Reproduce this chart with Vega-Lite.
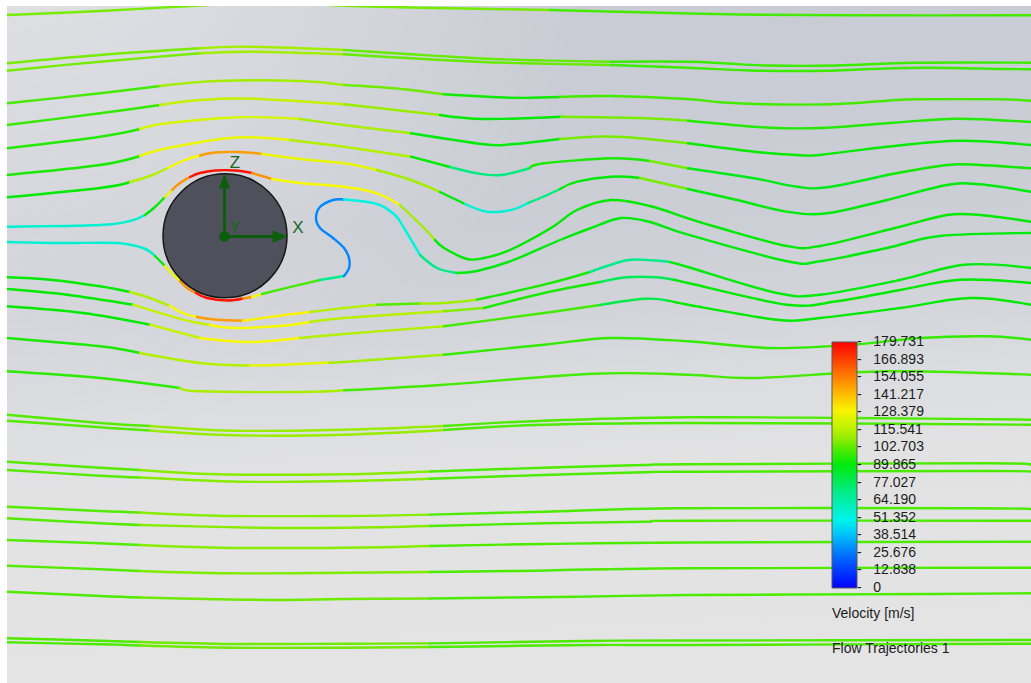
{
  "$schema": "https://vega.github.io/schema/vega-lite/v6.json",
  "width": 1024,
  "height": 677,
  "padding": {"left": 7, "top": 6, "right": 0, "bottom": 0},
  "autosize": {"type": "none"},
  "background": "#ffffff",
  "config": {"view": {"stroke": null}, "font": "Liberation Sans"},
  "datasets": {
    "flow": [
      {"s":"T1a","v":106,"x":7,"y":15},{"s":"T1a","v":106,"x":100,"y":11},{"s":"T1a","v":106,"x":199,"y":5.5},{"s":"T1a","v":106,"x":270,"y":2.5},{"s":"T1a","v":106,"x":352,"y":6},{"s":"T1a","v":106,"x":450,"y":8.3},{"s":"T1a","v":106,"x":550,"y":10},
      {"s":"T1b","v":100,"x":550,"y":10},{"s":"T1b","v":100,"x":650,"y":12.5},{"s":"T1b","v":100,"x":740,"y":14.5},{"s":"T1b","v":100,"x":850,"y":15.3},{"s":"T1b","v":100,"x":1031,"y":15.3},

      {"s":"A1","v":106,"x":7,"y":63.3},{"s":"A1","v":106,"x":100,"y":55},{"s":"A1","v":106,"x":200,"y":48.3},
      {"s":"A2","v":112,"x":200,"y":48.3},{"s":"A2","v":112,"x":247,"y":46.7},{"s":"A2","v":112,"x":344,"y":50},
      {"s":"A3","v":104,"x":344,"y":50},{"s":"A3","v":104,"x":411,"y":54.3},{"s":"A3","v":104,"x":477,"y":58.3},{"s":"A3","v":104,"x":524,"y":60},{"s":"A3","v":104,"x":611,"y":61.7},
      {"s":"A4","v":99,"x":611,"y":61.7},{"s":"A4","v":99,"x":687,"y":61.7},{"s":"A4","v":99,"x":724,"y":63.3},{"s":"A4","v":99,"x":767,"y":65.5},{"s":"A4","v":99,"x":837,"y":65.5},{"s":"A4","v":99,"x":914,"y":62.7},{"s":"A4","v":99,"x":1031,"y":62.7},

      {"s":"B1","v":106,"x":7,"y":70.7},{"s":"B1","v":106,"x":100,"y":61.7},{"s":"B1","v":106,"x":200,"y":53.3},
      {"s":"B2","v":112,"x":200,"y":53.3},{"s":"B2","v":112,"x":250,"y":51.7},{"s":"B2","v":112,"x":344,"y":54.3},
      {"s":"B3","v":104,"x":344,"y":54.3},{"s":"B3","v":104,"x":411,"y":58.3},{"s":"B3","v":104,"x":477,"y":61.7},{"s":"B3","v":104,"x":524,"y":63.3},{"s":"B3","v":104,"x":611,"y":65},
      {"s":"B4","v":99,"x":611,"y":65},{"s":"B4","v":99,"x":687,"y":67.7},{"s":"B4","v":99,"x":750,"y":70.5},{"s":"B4","v":99,"x":830,"y":70.7},{"s":"B4","v":99,"x":870,"y":69},{"s":"B4","v":99,"x":927,"y":67.7},{"s":"B4","v":99,"x":1003,"y":69},{"s":"B4","v":99,"x":1031,"y":69.3},

      {"s":"C1","v":100,"x":7,"y":103.3},{"s":"C1","v":100,"x":100,"y":93.3},{"s":"C1","v":100,"x":160,"y":86},
      {"s":"C2","v":112,"x":160,"y":86},{"s":"C2","v":112,"x":217,"y":81},{"s":"C2","v":112,"x":300,"y":81},{"s":"C2","v":112,"x":344,"y":85},
      {"s":"C3","v":105,"x":344,"y":85},{"s":"C3","v":105,"x":394,"y":88.3},{"s":"C3","v":105,"x":444,"y":94.3},
      {"s":"C4","v":94,"x":444,"y":94.3},{"s":"C4","v":94,"x":511,"y":97.7},{"s":"C4","v":94,"x":560,"y":97},
      {"s":"C5","v":100,"x":560,"y":97},{"s":"C5","v":100,"x":611,"y":96},{"s":"C5","v":100,"x":687,"y":99},{"s":"C5","v":100,"x":720,"y":102.3},{"s":"C5","v":100,"x":767,"y":104.3},{"s":"C5","v":100,"x":830,"y":104.3},{"s":"C5","v":100,"x":887,"y":100.7},{"s":"C5","v":100,"x":917,"y":99.3},{"s":"C5","v":100,"x":997,"y":99.3},{"s":"C5","v":100,"x":1031,"y":100.7},

      {"s":"D1","v":98,"x":7,"y":125},{"s":"D1","v":98,"x":100,"y":113.3},{"s":"D1","v":98,"x":160,"y":105},
      {"s":"D2","v":118,"x":160,"y":105},{"s":"D2","v":118,"x":200,"y":100},{"s":"D2","v":118,"x":253,"y":98.7},{"s":"D2","v":118,"x":344,"y":104.3},
      {"s":"D3","v":110,"x":344,"y":104.3},{"s":"D3","v":110,"x":411,"y":111.7},{"s":"D3","v":110,"x":440,"y":115},
      {"s":"D4","v":92,"x":440,"y":115},{"s":"D4","v":92,"x":484,"y":119},{"s":"D4","v":92,"x":561,"y":116.7},
      {"s":"D5","v":106,"x":561,"y":116.7},{"s":"D5","v":106,"x":640,"y":118},{"s":"D5","v":106,"x":688,"y":120.7},
      {"s":"D6","v":96,"x":688,"y":120.7},{"s":"D6","v":96,"x":770,"y":127.7},{"s":"D6","v":96,"x":827,"y":127.7},{"s":"D6","v":96,"x":894,"y":122.7},{"s":"D6","v":96,"x":957,"y":118.7},{"s":"D6","v":96,"x":1031,"y":122},

      {"s":"E1","v":96,"x":7,"y":148.3},{"s":"E1","v":96,"x":100,"y":136.7},{"s":"E1","v":96,"x":140,"y":129},
      {"s":"E2","v":122,"x":140,"y":129},{"s":"E2","v":122,"x":167,"y":123.3},{"s":"E2","v":122,"x":240,"y":117.3},{"s":"E2","v":122,"x":300,"y":119},
      {"s":"E3","v":113,"x":300,"y":119},{"s":"E3","v":113,"x":344,"y":125},{"s":"E3","v":113,"x":411,"y":133.3},
      {"s":"E4","v":90,"x":411,"y":133.3},{"s":"E4","v":90,"x":484,"y":144.3},{"s":"E4","v":90,"x":511,"y":144.3},{"s":"E4","v":90,"x":560,"y":139},
      {"s":"E5","v":106,"x":560,"y":139},{"s":"E5","v":106,"x":594,"y":136.7},{"s":"E5","v":106,"x":627,"y":137.3},{"s":"E5","v":106,"x":688,"y":143.3},
      {"s":"E6","v":93,"x":688,"y":143.3},{"s":"E6","v":93,"x":754,"y":151.7},{"s":"E6","v":93,"x":797,"y":155},{"s":"E6","v":93,"x":820,"y":155},{"s":"E6","v":93,"x":887,"y":146.7},{"s":"E6","v":93,"x":960,"y":140.7},{"s":"E6","v":93,"x":1031,"y":145},

      {"s":"F1","v":95,"x":7,"y":175},{"s":"F1","v":95,"x":100,"y":165},{"s":"F1","v":95,"x":140,"y":156},
      {"s":"F2","v":126,"x":140,"y":156},{"s":"F2","v":126,"x":167,"y":148.3},{"s":"F2","v":126,"x":233,"y":137.7},{"s":"F2","v":126,"x":290,"y":140},
      {"s":"F3","v":115,"x":290,"y":140},{"s":"F3","v":115,"x":344,"y":146.7},{"s":"F3","v":115,"x":411,"y":156.7},
      {"s":"F4","v":92,"x":411,"y":156.7},{"s":"F4","v":92,"x":450,"y":167},
      {"s":"F5","v":72,"x":450,"y":167},{"s":"F5","v":72,"x":477,"y":173.3},{"s":"F5","v":72,"x":501,"y":175},{"s":"F5","v":72,"x":530,"y":168},
      {"s":"F6","v":95,"x":530,"y":168},{"s":"F6","v":95,"x":544,"y":163.3},{"s":"F6","v":95,"x":611,"y":158.3},{"s":"F6","v":95,"x":650,"y":161},
      {"s":"F7","v":106,"x":650,"y":161},{"s":"F7","v":106,"x":688,"y":168.3},
      {"s":"F8","v":88,"x":688,"y":168.3},{"s":"F8","v":88,"x":754,"y":178.3},{"s":"F8","v":88,"x":797,"y":186.7},{"s":"F8","v":88,"x":827,"y":187.3},{"s":"F8","v":88,"x":887,"y":175},
      {"s":"F9","v":94,"x":887,"y":175},{"s":"F9","v":94,"x":947,"y":165},{"s":"F9","v":94,"x":980,"y":165},{"s":"F9","v":94,"x":1031,"y":168.3},

      {"s":"V1","v":92,"x":7,"y":197.3},{"s":"V1","v":92,"x":100,"y":188},{"s":"V1","v":92,"x":130,"y":182},
      {"s":"V2","v":115,"x":130,"y":182},{"s":"V2","v":115,"x":150,"y":176},{"s":"V2","v":115,"x":168,"y":168},
      {"s":"V3","v":128,"x":168,"y":168},{"s":"V3","v":128,"x":185,"y":160},{"s":"V3","v":128,"x":200,"y":155.5},
      {"s":"V4","v":148,"x":200,"y":155.5},{"s":"V4","v":148,"x":215,"y":152.5},{"s":"V4","v":148,"x":240,"y":152},{"s":"V4","v":148,"x":262,"y":154},
      {"s":"V5","v":125,"x":262,"y":154},{"s":"V5","v":125,"x":300,"y":159},{"s":"V5","v":125,"x":344,"y":163.3},{"s":"V5","v":125,"x":377,"y":170},
      {"s":"V6","v":112,"x":377,"y":170},{"s":"V6","v":112,"x":411,"y":180},{"s":"V6","v":112,"x":440,"y":192},
      {"s":"V7","v":90,"x":440,"y":192},{"s":"V7","v":90,"x":465,"y":204},
      {"s":"V8","v":55,"x":465,"y":204},{"s":"V8","v":55,"x":487,"y":211.7},{"s":"V8","v":55,"x":511,"y":210},{"s":"V8","v":55,"x":528,"y":203},
      {"s":"V9","v":72,"x":528,"y":203},{"s":"V9","v":72,"x":545,"y":196},{"s":"V9","v":72,"x":560,"y":189},
      {"s":"V10","v":92,"x":560,"y":189},{"s":"V10","v":92,"x":577,"y":181.7},{"s":"V10","v":92,"x":611,"y":176.7},{"s":"V10","v":92,"x":640,"y":178},
      {"s":"V11","v":106,"x":640,"y":178},{"s":"V11","v":106,"x":688,"y":189},
      {"s":"V12","v":90,"x":688,"y":189},{"s":"V12","v":90,"x":737,"y":200},{"s":"V12","v":90,"x":787,"y":211.7},{"s":"V12","v":90,"x":827,"y":213.3},{"s":"V12","v":90,"x":887,"y":200},{"s":"V12","v":90,"x":947,"y":185},{"s":"V12","v":90,"x":980,"y":184.3},{"s":"V12","v":90,"x":1031,"y":191.7},

      {"s":"U1","v":55,"x":7,"y":226.7},{"s":"U1","v":55,"x":100,"y":225},{"s":"U1","v":55,"x":130,"y":221},{"s":"U1","v":55,"x":145,"y":215},
      {"s":"U2","v":90,"x":145,"y":215},{"s":"U2","v":90,"x":155,"y":207},{"s":"U2","v":90,"x":165,"y":197},
      {"s":"U3","v":125,"x":165,"y":197},{"s":"U3","v":125,"x":172,"y":190},
      {"s":"U4","v":150,"x":172,"y":190},{"s":"U4","v":150,"x":180,"y":183},{"s":"U4","v":150,"x":190,"y":177},
      {"s":"U5","v":176,"x":190,"y":177},{"s":"U5","v":176,"x":200,"y":173},{"s":"U5","v":176,"x":215,"y":170.5},{"s":"U5","v":176,"x":235,"y":170.5},{"s":"U5","v":176,"x":252,"y":173},
      {"s":"U6","v":150,"x":252,"y":173},{"s":"U6","v":150,"x":262,"y":176},{"s":"U6","v":150,"x":272,"y":179},
      {"s":"U7","v":128,"x":272,"y":179},{"s":"U7","v":128,"x":300,"y":183},{"s":"U7","v":128,"x":344,"y":186.7},{"s":"U7","v":128,"x":377,"y":193.3},{"s":"U7","v":128,"x":400,"y":205},
      {"s":"U8","v":112,"x":400,"y":205},{"s":"U8","v":112,"x":424,"y":228},{"s":"U8","v":112,"x":435,"y":240},
      {"s":"U9","v":92,"x":435,"y":240},{"s":"U9","v":92,"x":444,"y":248},{"s":"U9","v":92,"x":467,"y":259},{"s":"U9","v":92,"x":484,"y":258},{"s":"U9","v":92,"x":510,"y":250},{"s":"U9","v":92,"x":551,"y":228},{"s":"U9","v":92,"x":577,"y":210},{"s":"U9","v":92,"x":611,"y":200},{"s":"U9","v":92,"x":650,"y":206},{"s":"U9","v":92,"x":688,"y":218.3},{"s":"U9","v":92,"x":720,"y":228},{"s":"U9","v":92,"x":787,"y":246},{"s":"U9","v":92,"x":820,"y":246},{"s":"U9","v":92,"x":895,"y":228},{"s":"U9","v":92,"x":947,"y":215},{"s":"U9","v":92,"x":980,"y":215},{"s":"U9","v":92,"x":1031,"y":221.7},

      {"s":"H1","v":55,"x":7,"y":242},{"s":"H1","v":55,"x":60,"y":243},{"s":"H1","v":55,"x":117,"y":243},{"s":"H1","v":55,"x":143,"y":248},{"s":"H1","v":55,"x":155,"y":256},
      {"s":"H2","v":90,"x":155,"y":256},{"s":"H2","v":90,"x":165,"y":266},
      {"s":"H3","v":125,"x":165,"y":266},{"s":"H3","v":125,"x":173,"y":274.7},{"s":"H3","v":125,"x":180,"y":281},
      {"s":"H4","v":150,"x":180,"y":281},{"s":"H4","v":150,"x":187,"y":288},{"s":"H4","v":150,"x":196,"y":293},
      {"s":"H5","v":176,"x":196,"y":293},{"s":"H5","v":176,"x":207,"y":298},{"s":"H5","v":176,"x":227,"y":300.5},{"s":"H5","v":176,"x":243,"y":298.5},
      {"s":"H6","v":150,"x":243,"y":298.5},{"s":"H6","v":150,"x":252,"y":297},
      {"s":"H7","v":128,"x":252,"y":297},{"s":"H7","v":128,"x":262,"y":294},
      {"s":"H8","v":100,"x":262,"y":294},{"s":"H8","v":100,"x":300,"y":284.7},{"s":"H8","v":100,"x":320,"y":280},
      {"s":"H9","v":68,"x":320,"y":280},{"s":"H9","v":68,"x":344,"y":276},
      {"s":"H10","v":28,"x":344,"y":276},{"s":"H10","v":28,"x":349,"y":268},{"s":"H10","v":28,"x":349,"y":258},{"s":"H10","v":28,"x":344,"y":248},{"s":"H10","v":28,"x":333,"y":238},{"s":"H10","v":28,"x":320,"y":228},{"s":"H10","v":28,"x":316,"y":218},{"s":"H10","v":28,"x":320,"y":207},{"s":"H10","v":28,"x":333,"y":200},{"s":"H10","v":28,"x":344,"y":199.5},
      {"s":"H11","v":52,"x":344,"y":199.5},{"s":"H11","v":52,"x":377,"y":204},{"s":"H11","v":52,"x":395,"y":215},{"s":"H11","v":52,"x":404,"y":228},{"s":"H11","v":52,"x":420,"y":255},
      {"s":"H12","v":70,"x":420,"y":255},{"s":"H12","v":70,"x":437,"y":268},{"s":"H12","v":70,"x":457,"y":273},
      {"s":"H13","v":90,"x":457,"y":273},{"s":"H13","v":90,"x":477,"y":271},{"s":"H13","v":90,"x":511,"y":261},{"s":"H13","v":90,"x":560,"y":240},{"s":"H13","v":90,"x":591,"y":228},{"s":"H13","v":90,"x":621,"y":218},{"s":"H13","v":90,"x":650,"y":222},{"s":"H13","v":90,"x":688,"y":234.7},{"s":"H13","v":90,"x":787,"y":261.3},{"s":"H13","v":90,"x":820,"y":261.3},{"s":"H13","v":90,"x":887,"y":248},{"s":"H13","v":90,"x":940,"y":236},{"s":"H13","v":90,"x":1031,"y":233},

      {"s":"P1","v":92,"x":7,"y":277.3},{"s":"P1","v":92,"x":50,"y":279.7},{"s":"P1","v":92,"x":100,"y":286.3},{"s":"P1","v":92,"x":130,"y":292},
      {"s":"P2","v":115,"x":130,"y":292},{"s":"P2","v":115,"x":150,"y":298},{"s":"P2","v":115,"x":170,"y":306},
      {"s":"P3","v":128,"x":170,"y":306},{"s":"P3","v":128,"x":183,"y":313},{"s":"P3","v":128,"x":197,"y":317},
      {"s":"P4","v":148,"x":197,"y":317},{"s":"P4","v":148,"x":217,"y":319.7},{"s":"P4","v":148,"x":243,"y":320.7},
      {"s":"P5","v":130,"x":243,"y":320.7},{"s":"P5","v":130,"x":283,"y":315.3},{"s":"P5","v":130,"x":310,"y":312},
      {"s":"P6","v":115,"x":310,"y":312},{"s":"P6","v":115,"x":344,"y":308},{"s":"P6","v":115,"x":377,"y":304.7},
      {"s":"P7","v":102,"x":377,"y":304.7},{"s":"P7","v":102,"x":420,"y":303.5},
      {"s":"P8","v":112,"x":420,"y":303.5},{"s":"P8","v":112,"x":444,"y":303},{"s":"P8","v":112,"x":477,"y":299.7},
      {"s":"P9","v":95,"x":477,"y":299.7},{"s":"P9","v":95,"x":544,"y":284.7},{"s":"P9","v":95,"x":590,"y":272},
      {"s":"P10","v":70,"x":590,"y":272},{"s":"P10","v":70,"x":627,"y":260.3},{"s":"P10","v":70,"x":651,"y":260.3},{"s":"P10","v":70,"x":670,"y":262},
      {"s":"P11","v":90,"x":670,"y":262},{"s":"P11","v":90,"x":688,"y":267},{"s":"P11","v":90,"x":777,"y":293},{"s":"P11","v":90,"x":820,"y":294.7},{"s":"P11","v":90,"x":900,"y":280},{"s":"P11","v":90,"x":964,"y":264.7},{"s":"P11","v":90,"x":1031,"y":268},

      {"s":"Q1","v":92,"x":7,"y":289},{"s":"Q1","v":92,"x":67,"y":294.7},{"s":"Q1","v":92,"x":133,"y":304.7},
      {"s":"Q2","v":118,"x":133,"y":304.7},{"s":"Q2","v":118,"x":183,"y":319.7},{"s":"Q2","v":118,"x":210,"y":325},
      {"s":"Q3","v":128,"x":210,"y":325},{"s":"Q3","v":128,"x":233,"y":328},{"s":"Q3","v":128,"x":283,"y":325.7},{"s":"Q3","v":128,"x":310,"y":322},
      {"s":"Q4","v":116,"x":310,"y":322},{"s":"Q4","v":116,"x":344,"y":318},{"s":"Q4","v":116,"x":444,"y":311.3},
      {"s":"Q5","v":108,"x":444,"y":311.3},{"s":"Q5","v":108,"x":484,"y":308},
      {"s":"Q6","v":95,"x":484,"y":308},{"s":"Q6","v":95,"x":544,"y":293},{"s":"Q6","v":95,"x":600,"y":282},
      {"s":"Q7","v":78,"x":600,"y":282},{"s":"Q7","v":78,"x":627,"y":277.3},{"s":"Q7","v":78,"x":657,"y":277.3},{"s":"Q7","v":78,"x":675,"y":280},
      {"s":"Q8","v":92,"x":675,"y":280},{"s":"Q8","v":92,"x":688,"y":283},{"s":"Q8","v":92,"x":787,"y":304.7},{"s":"Q8","v":92,"x":837,"y":301.3},{"s":"Q8","v":92,"x":900,"y":290},{"s":"Q8","v":92,"x":960,"y":279.7},{"s":"Q8","v":92,"x":1031,"y":283},

      {"s":"R1","v":92,"x":7,"y":306.3},{"s":"R1","v":92,"x":83,"y":313},{"s":"R1","v":92,"x":150,"y":324.7},
      {"s":"R2","v":118,"x":150,"y":324.7},{"s":"R2","v":118,"x":200,"y":338},
      {"s":"R3","v":128,"x":200,"y":338},{"s":"R3","v":128,"x":250,"y":342},{"s":"R3","v":128,"x":300,"y":338},
      {"s":"R4","v":115,"x":300,"y":338},{"s":"R4","v":115,"x":344,"y":334},{"s":"R4","v":115,"x":444,"y":326.3},
      {"s":"R5","v":100,"x":444,"y":326.3},{"s":"R5","v":100,"x":544,"y":313},{"s":"R5","v":100,"x":600,"y":305},
      {"s":"R6","v":80,"x":600,"y":305},{"s":"R6","v":80,"x":644,"y":298.7},{"s":"R6","v":80,"x":670,"y":301},
      {"s":"R7","v":92,"x":670,"y":301},{"s":"R7","v":92,"x":688,"y":304.7},{"s":"R7","v":92,"x":777,"y":319.7},{"s":"R7","v":92,"x":820,"y":318},{"s":"R7","v":92,"x":900,"y":308},{"s":"R7","v":92,"x":970,"y":298},{"s":"R7","v":92,"x":1031,"y":304.7},

      {"s":"S1","v":95,"x":7,"y":338},{"s":"S1","v":95,"x":100,"y":346.3},{"s":"S1","v":95,"x":140,"y":353},
      {"s":"S2","v":115,"x":140,"y":353},{"s":"S2","v":115,"x":200,"y":363},{"s":"S2","v":115,"x":250,"y":365.5},
      {"s":"S3","v":124,"x":250,"y":365.5},{"s":"S3","v":124,"x":283,"y":364.7},{"s":"S3","v":124,"x":330,"y":362.5},
      {"s":"S4","v":112,"x":330,"y":362.5},{"s":"S4","v":112,"x":344,"y":362},{"s":"S4","v":112,"x":444,"y":354.7},
      {"s":"S5","v":98,"x":444,"y":354.7},{"s":"S5","v":98,"x":544,"y":344.7},{"s":"S5","v":98,"x":611,"y":338},{"s":"S5","v":98,"x":688,"y":341.3},{"s":"S5","v":98,"x":770,"y":348},{"s":"S5","v":98,"x":850,"y":345},{"s":"S5","v":98,"x":920,"y":338},{"s":"S5","v":98,"x":987,"y":336.3},{"s":"S5","v":98,"x":1031,"y":339.7},

      {"s":"N1","v":97,"x":7,"y":371.3},{"s":"N1","v":97,"x":100,"y":378},{"s":"N1","v":97,"x":180,"y":388},
      {"s":"N2","v":113,"x":180,"y":388},{"s":"N2","v":113,"x":200,"y":391.3},{"s":"N2","v":113,"x":300,"y":392},{"s":"N2","v":113,"x":344,"y":390.3},
      {"s":"N3","v":100,"x":344,"y":390.3},{"s":"N3","v":100,"x":444,"y":384.7},{"s":"N3","v":100,"x":594,"y":373.7},{"s":"N3","v":100,"x":688,"y":374.7},{"s":"N3","v":100,"x":754,"y":378},{"s":"N3","v":100,"x":887,"y":371.3},{"s":"N3","v":100,"x":1031,"y":374.7},

      {"s":"O1","v":102,"x":7,"y":414.7},{"s":"O1","v":102,"x":100,"y":423},{"s":"O1","v":102,"x":150,"y":426},
      {"s":"O2","v":110,"x":150,"y":426},{"s":"O2","v":110,"x":233,"y":430.7},{"s":"O2","v":110,"x":344,"y":429.7},{"s":"O2","v":110,"x":444,"y":426},
      {"s":"O3","v":101,"x":444,"y":426},{"s":"O3","v":101,"x":544,"y":420.7},{"s":"O3","v":101,"x":688,"y":417.3},{"s":"O3","v":101,"x":850,"y":418},{"s":"O3","v":101,"x":1031,"y":419.7},

      {"s":"K1","v":102,"x":7,"y":420.7},{"s":"K1","v":102,"x":100,"y":427.3},{"s":"K1","v":102,"x":150,"y":430.5},
      {"s":"K2","v":110,"x":150,"y":430.5},{"s":"K2","v":110,"x":233,"y":435.3},{"s":"K2","v":110,"x":344,"y":434.7},{"s":"K2","v":110,"x":444,"y":430},
      {"s":"K3","v":101,"x":444,"y":430},{"s":"K3","v":101,"x":544,"y":424.7},{"s":"K3","v":101,"x":688,"y":423},{"s":"K3","v":101,"x":850,"y":423.5},{"s":"K3","v":101,"x":1031,"y":424.7},

      {"s":"G17a","v":102,"x":7,"y":461.7},{"s":"G17a","v":102,"x":100,"y":467.7},{"s":"G17a","v":102,"x":140,"y":470},
      {"s":"G17b","v":108,"x":140,"y":470},{"s":"G17b","v":108,"x":217,"y":474.3},{"s":"G17b","v":108,"x":344,"y":474.3},{"s":"G17b","v":108,"x":430,"y":471.5},
      {"s":"G17c","v":101,"x":430,"y":471.5},{"s":"G17c","v":101,"x":544,"y":467.7},{"s":"G17c","v":101,"x":644,"y":465},{"s":"G17c","v":101,"x":688,"y":464.3},{"s":"G17c","v":101,"x":987,"y":463.3},{"s":"G17c","v":101,"x":1031,"y":465},

      {"s":"G18a","v":102,"x":7,"y":470},{"s":"G18a","v":102,"x":100,"y":475.7},{"s":"G18a","v":102,"x":140,"y":477.5},
      {"s":"G18b","v":108,"x":140,"y":477.5},{"s":"G18b","v":108,"x":240,"y":481.7},{"s":"G18b","v":108,"x":344,"y":481},{"s":"G18b","v":108,"x":430,"y":478.7},
      {"s":"G18c","v":101,"x":430,"y":478.7},{"s":"G18c","v":101,"x":544,"y":475},{"s":"G18c","v":101,"x":644,"y":472.3},{"s":"G18c","v":101,"x":688,"y":471.7},{"s":"G18c","v":101,"x":987,"y":471},{"s":"G18c","v":101,"x":1031,"y":471.7},

      {"s":"G19a","v":102,"x":7,"y":506.7},{"s":"G19a","v":102,"x":100,"y":511},{"s":"G19a","v":102,"x":140,"y":512.5},
      {"s":"G19b","v":108,"x":140,"y":512.5},{"s":"G19b","v":108,"x":217,"y":515.7},{"s":"G19b","v":108,"x":344,"y":516},{"s":"G19b","v":108,"x":430,"y":514.6},
      {"s":"G19c","v":101,"x":430,"y":514.6},{"s":"G19c","v":101,"x":544,"y":511.7},{"s":"G19c","v":101,"x":677,"y":508.3},{"s":"G19c","v":101,"x":970,"y":508.3},{"s":"G19c","v":101,"x":1031,"y":509},

      {"s":"G20a","v":102,"x":7,"y":518.3},{"s":"G20a","v":102,"x":100,"y":523.3},{"s":"G20a","v":102,"x":140,"y":525},
      {"s":"G20b","v":108,"x":140,"y":525},{"s":"G20b","v":108,"x":257,"y":527.7},{"s":"G20b","v":108,"x":344,"y":527.7},{"s":"G20b","v":108,"x":430,"y":526},
      {"s":"G20c","v":101,"x":430,"y":526},{"s":"G20c","v":101,"x":544,"y":523.3},{"s":"G20c","v":101,"x":644,"y":521.7},{"s":"G20c","v":101,"x":688,"y":520.7},{"s":"G20c","v":101,"x":1031,"y":520.7},

      {"s":"G21a","v":102,"x":7,"y":540},{"s":"G21a","v":102,"x":100,"y":543.3},{"s":"G21a","v":102,"x":140,"y":545},
      {"s":"G21b","v":108,"x":140,"y":545},{"s":"G21b","v":108,"x":220,"y":547.7},{"s":"G21b","v":108,"x":344,"y":547.7},{"s":"G21b","v":108,"x":430,"y":546},
      {"s":"G21c","v":101,"x":430,"y":546},{"s":"G21c","v":101,"x":544,"y":544},{"s":"G21c","v":101,"x":688,"y":542.5},{"s":"G21c","v":101,"x":1031,"y":541.7},

      {"s":"G22a","v":102,"x":7,"y":565.7},{"s":"G22a","v":102,"x":100,"y":569.3},{"s":"G22a","v":102,"x":140,"y":571},
      {"s":"G22b","v":107,"x":140,"y":571},{"s":"G22b","v":107,"x":227,"y":573.3},{"s":"G22b","v":107,"x":344,"y":572.7},{"s":"G22b","v":107,"x":430,"y":572},
      {"s":"G22c","v":101,"x":430,"y":572},{"s":"G22c","v":101,"x":511,"y":571},{"s":"G22c","v":101,"x":688,"y":568.3},{"s":"G22c","v":101,"x":1031,"y":567.7},

      {"s":"G23a","v":101,"x":7,"y":591.7},{"s":"G23a","v":101,"x":100,"y":596},{"s":"G23a","v":101,"x":140,"y":597.5},
      {"s":"G23b","v":105,"x":140,"y":597.5},{"s":"G23b","v":105,"x":207,"y":599},{"s":"G23b","v":105,"x":280,"y":600},{"s":"G23b","v":105,"x":344,"y":599},{"s":"G23b","v":105,"x":430,"y":598.5},
      {"s":"G23c","v":101,"x":430,"y":598.5},{"s":"G23c","v":101,"x":577,"y":596.7},{"s":"G23c","v":101,"x":688,"y":595},{"s":"G23c","v":101,"x":870,"y":594.3},{"s":"G23c","v":101,"x":1031,"y":593.3},

      {"s":"G24a","v":101,"x":7,"y":638.3},{"s":"G24a","v":101,"x":100,"y":640.7},{"s":"G24a","v":101,"x":140,"y":642},
      {"s":"G24b","v":105,"x":140,"y":642},{"s":"G24b","v":105,"x":233,"y":644},{"s":"G24b","v":105,"x":344,"y":643.7},{"s":"G24b","v":105,"x":430,"y":643.4},
      {"s":"G24c","v":101,"x":430,"y":643.4},{"s":"G24c","v":101,"x":584,"y":641},{"s":"G24c","v":101,"x":688,"y":640.5},{"s":"G24c","v":101,"x":1031,"y":640},

      {"s":"G25a","v":101,"x":7,"y":642.3},{"s":"G25a","v":101,"x":100,"y":644.3},{"s":"G25a","v":101,"x":140,"y":645.5},
      {"s":"G25b","v":105,"x":140,"y":645.5},{"s":"G25b","v":105,"x":233,"y":647.7},{"s":"G25b","v":105,"x":344,"y":647.7},{"s":"G25b","v":105,"x":430,"y":647},
      {"s":"G25c","v":101,"x":430,"y":647},{"s":"G25c","v":101,"x":591,"y":645},{"s":"G25c","v":101,"x":688,"y":645},{"s":"G25c","v":101,"x":1031,"y":643.7}
    ],
    "body": [{"part": "cylinder", "x": 225, "y": 235.8}],
    "shafts": [
      {"axis": "Z", "x": 224.5, "y": 236.5, "x2": 224.5, "y2": 186},
      {"axis": "X", "x": 224.5, "y": 236.5, "x2": 274, "y2": 236.5}
    ],
    "headZ": [{"axis": "Z", "x": 224.5, "y": 181}],
    "headX": [{"axis": "X", "x": 280.5, "y": 236.5}],
    "origin": [{"x": 224.5, "y": 236.5}],
    "axisLabels": [
      {"t": "Z", "x": 235, "y": 163},
      {"t": "Y", "x": 235, "y": 227.5},
      {"t": "X", "x": 298, "y": 228}
    ]
  },
  "layer": [
    {
      "data": {"values": [{}]},
      "mark": {
        "type": "rect",
        "fill": {
          "gradient": "linear", "x1": 0, "y1": 0, "x2": 0.08, "y2": 1,
          "stops": [
            {"offset": 0, "color": "#c8cbd4"},
            {"offset": 0.36, "color": "#cbced5"},
            {"offset": 0.48, "color": "#d1d3d9"},
            {"offset": 0.61, "color": "#dcdde0"},
            {"offset": 0.72, "color": "#e2e2e3"},
            {"offset": 1, "color": "#e4e4e4"}
          ]
        }
      },
      "encoding": {
        "x": {"datum": 7, "type": "quantitative", "scale": {"domain": [7, 1031], "nice": false, "zero": false}, "axis": null},
        "x2": {"datum": 1031},
        "y": {"datum": 6, "type": "quantitative", "scale": {"domain": [6, 683], "nice": false, "zero": false, "reverse": true}, "axis": null},
        "y2": {"datum": 683}
      }
    },
    {
      "data": {"values": [{}]},
      "mark": {
        "type": "rect",
        "fill": {
          "gradient": "radial", "x1": 0, "y1": 0, "r1": 0, "x2": 0, "y2": 0, "r2": 0.6,
          "stops": [
            {"offset": 0, "color": "rgba(231,231,232,0.95)"},
            {"offset": 0.5, "color": "rgba(231,231,232,0.5)"},
            {"offset": 1, "color": "rgba(231,231,232,0)"}
          ]
        }
      },
      "encoding": {
        "x": {"datum": 7, "type": "quantitative", "scale": {"domain": [7, 1031], "nice": false, "zero": false}, "axis": null},
        "x2": {"datum": 1031},
        "y": {"datum": 6, "type": "quantitative", "scale": {"domain": [6, 683], "nice": false, "zero": false, "reverse": true}, "axis": null},
        "y2": {"datum": 683}
      }
    },
    {
      "data": {"name": "flow"},
      "mark": {"type": "line", "interpolate": "cardinal", "strokeWidth": 2.4, "strokeCap": "round", "strokeJoin": "round", "clip": true},
      "encoding": {
        "x": {"field": "x", "type": "quantitative", "scale": {"domain": [7, 1031], "nice": false, "zero": false}, "axis": null},
        "y": {"field": "y", "type": "quantitative", "scale": {"domain": [6, 683], "nice": false, "zero": false, "reverse": true}, "axis": null},
        "detail": {"field": "s", "type": "nominal"},
        "order": {"value": null},
        "color": {
          "field": "v",
          "type": "quantitative",
          "scale": {
            "type": "linear",
            "domain": [0, 24, 48, 70, 92, 110, 128.379, 154, 179.731],
            "range": ["#0000ff", "#0070ff", "#00f4f4", "#00ec88", "#00ea00", "#98ec00", "#fafa00", "#ff8000", "#ff0000"],
            "interpolate": "rgb"
          },
          "legend": {
            "type": "gradient",
            "orient": "none",
            "legendX": 825,
            "legendY": 336,
            "direction": "vertical",
            "padding": 0,
            "gradientLength": 246,
            "gradientThickness": 25,
            "gradientStrokeColor": "#5a5a5a",
            "gradientStrokeWidth": 1,
            "values": [0, 12.838, 25.676, 38.514, 51.352, 64.19, 77.027, 89.865, 102.703, 115.541, 128.379, 141.217, 154.055, 166.893, 179.731],
            "labelExpr": "'-\u00a0\u00a0\u00a0' + (datum.value == 0 ? '0' : format(datum.value, '.3f'))",
            "labelFont": "Liberation Sans",
            "labelFontSize": 14,
            "labelColor": "#1c1c1c",
            "labelOffset": 0,
            "labelOverlap": false,
            "labelLimit": 200,
            "title": ["Velocity [m/s]", "Flow Trajectories 1"],
            "titleOrient": "bottom",
            "titleAnchor": "start",
            "titleAlign": "left",
            "titleBaseline": "top",
            "titlePadding": 12,
            "titleFont": "Liberation Sans",
            "titleFontSize": 14,
            "titleFontWeight": "normal",
            "titleColor": "#1c1c1c",
            "titleLineHeight": 35,
            "titleLimit": 300,
            "encode": {
              "labels": {"update": {"baseline": {"value": "middle"}}}
            }
          }
        }
      }
    },
    {
      "data": {"name": "body"},
      "mark": {"type": "point", "shape": "circle", "filled": true, "size": 15376, "fill": "#4e505b", "stroke": "#161616", "strokeWidth": 1.5, "opacity": 1},
      "encoding": {
        "x": {"field": "x", "type": "quantitative", "scale": {"domain": [7, 1031], "nice": false, "zero": false}, "axis": null},
        "y": {"field": "y", "type": "quantitative", "scale": {"domain": [6, 683], "nice": false, "zero": false, "reverse": true}, "axis": null}
      }
    },
    {
      "data": {"name": "shafts"},
      "mark": {"type": "rule", "color": "#0c5e0c", "strokeWidth": 3},
      "encoding": {
        "x": {"field": "x", "type": "quantitative", "scale": {"domain": [7, 1031], "nice": false, "zero": false}, "axis": null},
        "y": {"field": "y", "type": "quantitative", "scale": {"domain": [6, 683], "nice": false, "zero": false, "reverse": true}, "axis": null},
        "x2": {"field": "x2"},
        "y2": {"field": "y2"}
      }
    },
    {
      "data": {"name": "headZ"},
      "mark": {"type": "point", "shape": "M0,-1L-0.75,1L0.75,1Z", "filled": true, "size": 225, "color": "#0c5e0c", "opacity": 1},
      "encoding": {
        "x": {"field": "x", "type": "quantitative", "scale": {"domain": [7, 1031], "nice": false, "zero": false}, "axis": null},
        "y": {"field": "y", "type": "quantitative", "scale": {"domain": [6, 683], "nice": false, "zero": false, "reverse": true}, "axis": null}
      }
    },
    {
      "data": {"name": "headX"},
      "mark": {"type": "point", "shape": "M1,0L-1,-0.75L-1,0.75Z", "filled": true, "size": 256, "color": "#0c5e0c", "opacity": 1},
      "encoding": {
        "x": {"field": "x", "type": "quantitative", "scale": {"domain": [7, 1031], "nice": false, "zero": false}, "axis": null},
        "y": {"field": "y", "type": "quantitative", "scale": {"domain": [6, 683], "nice": false, "zero": false, "reverse": true}, "axis": null}
      }
    },
    {
      "data": {"name": "origin"},
      "mark": {"type": "point", "shape": "circle", "filled": true, "size": 110, "color": "#0c5e0c", "opacity": 1},
      "encoding": {
        "x": {"field": "x", "type": "quantitative", "scale": {"domain": [7, 1031], "nice": false, "zero": false}, "axis": null},
        "y": {"field": "y", "type": "quantitative", "scale": {"domain": [6, 683], "nice": false, "zero": false, "reverse": true}, "axis": null}
      }
    },
    {
      "data": {"name": "axisLabels"},
      "mark": {"type": "text", "font": "Liberation Sans", "fontSize": 17, "color": "#1a661a", "align": "center", "baseline": "middle"},
      "encoding": {
        "x": {"field": "x", "type": "quantitative", "scale": {"domain": [7, 1031], "nice": false, "zero": false}, "axis": null},
        "y": {"field": "y", "type": "quantitative", "scale": {"domain": [6, 683], "nice": false, "zero": false, "reverse": true}, "axis": null},
        "text": {"field": "t"}
      }
    }
  ]
}
